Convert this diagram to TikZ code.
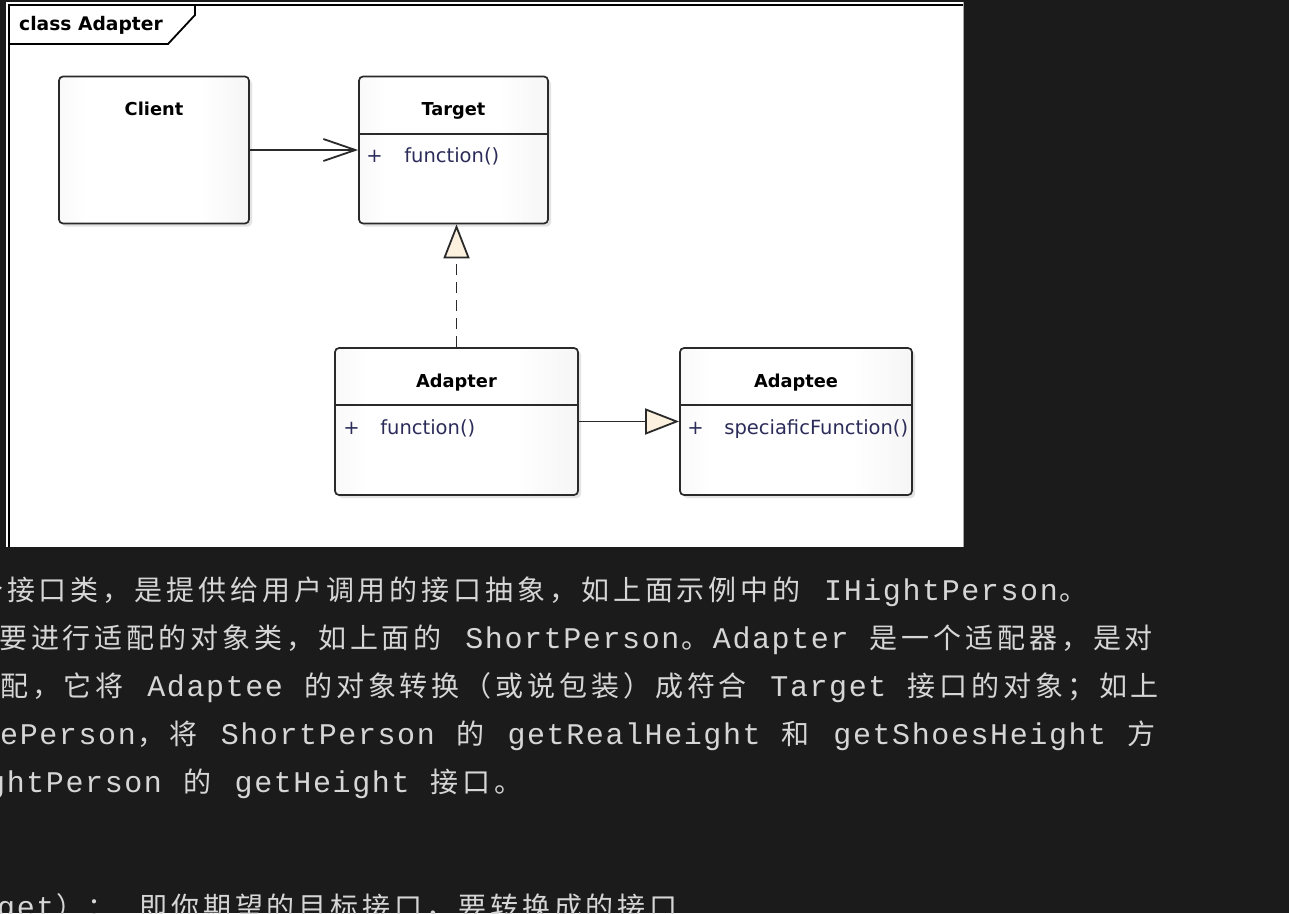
\documentclass[tikz,border=0pt]{standalone}
\usepackage{fontspec}
\setmainfont{DejaVu Sans}
\newfontfamily\umlfont{DejaVu Sans}
\newfontfamily\latmono[LetterSpace=5.33]{Liberation Mono}
\newfontfamily\cjk[LetterSpace=13.93]{Noto Sans CJK SC}
\usetikzlibrary{arrows.meta,positioning,shadows}
\definecolor{PageDark}{HTML}{1B1B1B}
\definecolor{ProseGray}{HTML}{D6D6D6}
\definecolor{UmlInk}{HTML}{2A2A2A}
\definecolor{UmlMember}{HTML}{2C2C5A}
\definecolor{UmlCream}{HTML}{FCF0DE}
\pgfdeclarehorizontalshading{umlsheen}{100bp}{color(0bp)=(black!8); color(20bp)=(black!4);
  color(32bp)=(white); color(62bp)=(white); color(100bp)=(black!11)}
% runs of CJK / Latin text; the tracking after the last glyph is added by hand
\newcommand{\zh}[1]{{\cjk\fontsize{28}{32}\selectfont #1}\hspace*{3.9pt}}
\newcommand{\en}[1]{{\latmono\fontsize{30}{34}\selectfont #1}\hspace*{1.6pt}}
\newcommand{\gap}{\hspace*{19.6pt}}

\begin{document}
\begin{tikzpicture}[x=1pt,y=-1pt,
    classbox/.style={draw=UmlInk,line width=1.7pt,rounded corners=4pt,shading=umlsheen,
      drop shadow={shadow xshift=3pt,shadow yshift=-3pt,opacity=.22},
      inner sep=0pt,minimum height=147pt},
    classname/.style={anchor=base,inner sep=0pt,text=black,
      font=\umlfont\fontsize{17.8}{20}\selectfont\bfseries},
    member/.style={anchor=base west,inner sep=0pt,text=UmlMember,
      font=\umlfont\fontsize{19.5}{22}\selectfont},
    divider/.style={draw=UmlInk,line width=1.7pt},
    frameline/.style={draw=black,line width=1.8pt},
    prose/.style={anchor=base west,inner sep=0pt,text=ProseGray},
    uses/.style={draw=UmlInk,line width=1.8pt,-{Straight Barb[length=32pt,width=22pt]}},
    realizes/.style={draw=UmlInk,line width=1.8pt,dash pattern=on 11pt off 7pt,
      -{Triangle[length=34pt,width=26pt,fill=UmlCream]}},
    inherits/.style={draw=UmlInk,line width=1.8pt,
      -{Triangle[length=34pt,width=26pt,fill=UmlCream]}}]
  \useasboundingbox (0,0) rectangle (1289,913);
  \clip (0,0) rectangle (1289,913);
  \fill[PageDark] (0,0) rectangle (1289,913);

  % diagram sheet and frame
  \fill[white] (6,2) rectangle (964,547);
  \draw[black!35,line width=1pt] (963.5,2) -- (963.5,547);
  \draw[frameline] (9,547) -- (9,5) -- (963,5);
  \draw[frameline] (9,44) -- (168,44) -- (195,15) -- (195,5);
  \node[anchor=base west,inner sep=0pt,font=\umlfont\fontsize{18.7}{20}\selectfont\bfseries]
    (frametitle) at (19,30) {class Adapter};

  % classes
  \node[classbox,minimum width=190pt] (client) at (154,150) {};
  \node[classbox,minimum width=189pt] (target) at (453.5,150) {};
  \node[classbox,minimum width=243pt] (adapter) at (456.5,421.5) {};
  \node[classbox,minimum width=232pt] (adaptee) at (796,421.5) {};

  \node[classname] (clientname) at ([yshift=-40pt]client.north) {Client};
  \node[classname] (targetname) at ([yshift=-40pt]target.north) {Target};
  \node[classname] (adaptername) at ([yshift=-40pt]adapter.north) {Adapter};
  \node[classname] (adapteename) at ([yshift=-40pt]adaptee.north) {Adaptee};

  \draw[divider] ([yshift=-58pt]target.north west) -- ([yshift=-58pt]target.north east);
  \draw[divider] ([yshift=-58pt]adapter.north west) -- ([yshift=-58pt]adapter.north east);
  \draw[divider] ([yshift=-58pt]adaptee.north west) -- ([yshift=-58pt]adaptee.north east);

  \node[member] (targetvis) at ([xshift=8pt,yshift=-87pt]target.north west) {+};
  \node[member] (targetop) at ([xshift=46pt,yshift=-87pt]target.north west) {function()};
  \node[member] (adaptervis) at ([xshift=9pt,yshift=-87pt]adapter.north west) {+};
  \node[member] (adapterop) at ([xshift=46pt,yshift=-87pt]adapter.north west) {function()};
  \node[member] (adapteevis) at ([xshift=8pt,yshift=-87pt]adaptee.north west) {+};
  \node[member] (adapteeop) at ([xshift=45pt,yshift=-87pt]adaptee.north west) {speciaficFunction()};

  % relations
  \draw[uses] (client.east) -- (target.west);
  \draw[realizes] (adapter.north) -- (adapter.north |- target.south);
  \draw[inherits] (adapter.east) -- (adaptee.west);

  % text below the picture
  \node[prose] (line1) at (-25,600) {\zh{个接口类，是提供给用户调用的接口抽象，如上面示例中的}\gap\en{IHightPerson}\zh{。}};
  \node[prose] (line2) at (-1,648) {\zh{要进行适配的对象类，如上面的}\gap\en{ShortPerson}\zh{。}\en{Adapter}\gap\zh{是一个适配器，是对}};
  \node[prose] (line3) at (0,696) {\zh{配，它将}\gap\en{Adaptee}\gap\zh{的对象转换（或说包装）成符合}\gap\en{Target}\gap\zh{接口的对象；如上}};
  \node[prose] (line4) at (0,744) {\en{ePerson}\zh{，将}\gap\en{ShortPerson}\gap\zh{的}\gap\en{getRealHeight}\gap\zh{和}\gap\en{getShoesHeight}\gap\zh{方}};
  \node[prose] (line5) at (-13,792) {\en{ghtPerson}\gap\zh{的}\gap\en{getHeight}\gap\zh{接口。}};
  \node[prose] (line6) at (-3,917) {\en{get}\zh{）：}\gap\zh{即你期望的目标接口，要转换成的接口}};
\end{tikzpicture}
\end{document}
